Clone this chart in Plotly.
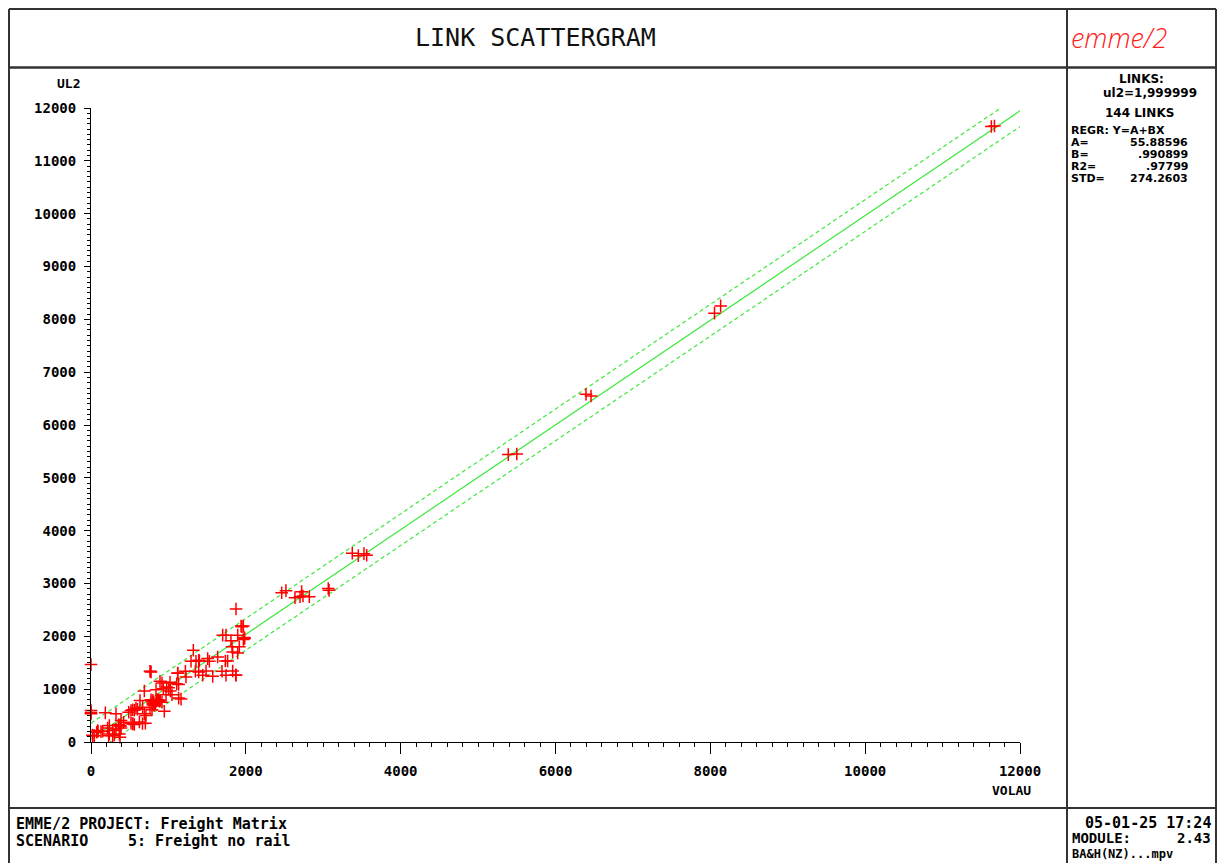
import plotly.graph_objects as go

# ---------------- data ----------------
vol = [11630, 11670, 8054, 8133, 6394, 6459, 5390, 5500,
       3375, 3453, 3526, 3561,
       2463, 2518, 2721, 2635, 2700, 2738, 2820, 3065, 3075,
       1873, 1938, 1968, 1701, 1744, 1895, 1981, 1968, 1808, 1821, 1830, 1916, 1895,
       1735, 1765, 1322, 1292, 1356, 1391, 1507, 1529, 1636,
       1348, 1391, 1486, 1443, 1572, 1692, 1744, 1830, 1873,
       1120, 1219, 1227, 762, 775, 891, 917, 1021, 1003, 1107, 1132,
       689, 840, 934, 977, 969, 1025, 1046, 1132, 1163, 633,
       775, 840, 861, 883, 797, 818, 762, 788, 947, 896, 917,
       517, 538, 487, 581, 667, 710, 689, 538, 517, 560, 702,
       185, 323, 357, 375, 388, 237, 215, 280, 323, 388,
       73, 86, 151, 129, 43, 22, 237, 280, 301, 366, 375,
       0, 0, 0, 228, 422,
       790, 810, 850, 830, 870, 800, 560, 600, 625, 665,
       1950, 1985, 1120, 770, 540, 380, 90, 20, 0, 880, 800, 1870, 1400]
ul2 = [11650, 11660, 8115, 8254, 6582, 6550, 5440, 5450,
       3572, 3527, 3565, 3534,
       2826, 2865, 2846, 2732, 2750, 2764, 2751, 2906, 2870,
       2517, 2194, 2194, 2022, 2022, 2022, 1978, 1940, 1915, 1801, 1705, 1801, 1686,
       1534, 1534, 1737, 1528, 1528, 1547, 1579, 1528, 1610,
       1338, 1325, 1344, 1262, 1243, 1338, 1262, 1344, 1262,
       1306, 1338, 1230, 1338, 1325, 1148, 1116, 1129, 1027, 1103, 1090,
       964, 989, 1008, 1040, 894, 964, 894, 831, 812, 786,
       799, 773, 799, 773, 723, 691, 647, 609, 583, 786, 754,
       596, 609, 564, 640, 659, 501, 533, 342, 355, 330, 355,
       552, 533, 330, 311, 266, 311, 266, 216, 247, 406,
       184, 216, 203, 197, 120, 120, 152, 120, 133, 152, 89,
       596, 533, 1465, 120, 374,
       760, 740, 780, 720, 800, 790, 600, 620, 380, 350,
       2180, 1960, 1300, 1335, 350, 300, 200, 130, 560, 780, 700, 1270, 1540]

x_ticks = [0, 2000, 4000, 6000, 8000, 10000, 12000]
y_ticks = [0, 1000, 2000, 3000, 4000, 5000, 6000, 7000, 8000, 9000, 10000, 11000, 12000]

# regression figures printed on the chart
A = 55.88596
B = 0.990899
R2 = 0.97799
STD = 274.2603
N_LINKS = 144
BAND = 300          # half-width of dashed band
line_x = [0, 12000]

# ---------------- geometry helpers (page pixels -> paper) ----------------
W, H = 1218, 863
PL, PR, PT, PB = 91, 1020, 108, 742


def fx(p):
    return (p - PL) / (PR - PL)


def fy(p):
    return (PB - p) / (PB - PT)


MONO = "DejaVu Sans Mono"
SANS = "DejaVu Sans"


def txt(s, x, y, xa="left", size=12, family=SANS, weight="bold", color="#000", style="normal"):
    return dict(text=s, x=fx(x), y=fy(y), xref="paper", yref="paper",
                xanchor=xa, yanchor="middle", showarrow=False,
                font=dict(family=family, size=size, color=color, weight=weight, style=style))


def seg(x0, y0, x1, y1, w=2, c="#333"):
    return dict(type="line", xref="paper", yref="paper",
                x0=fx(x0), y0=fy(y0), x1=fx(x1), y1=fy(y1),
                line=dict(color=c, width=w))


reg_y = [A + B * v for v in line_x]
up_y = [v + BAND for v in reg_y]
lo_y = [v - BAND for v in reg_y]

GREEN = "#3de83d"

fig = go.Figure()
fig.add_trace(go.Scatter(x=line_x, y=reg_y, mode="lines",
                         line=dict(color=GREEN, width=1.2), hoverinfo="skip"))
fig.add_trace(go.Scatter(x=line_x, y=up_y, mode="lines",
                         line=dict(color=GREEN, width=1.2, dash="4px,3px"), hoverinfo="skip"))
fig.add_trace(go.Scatter(x=line_x, y=lo_y, mode="lines",
                         line=dict(color=GREEN, width=1.2, dash="4px,3px"), hoverinfo="skip"))
fig.add_trace(go.Scatter(x=vol, y=ul2, mode="markers", cliponaxis=False,
                         marker=dict(symbol="cross-thin", size=9,
                                     line=dict(color="#ff0000", width=1.5))))

axis_font = dict(family=MONO, size=14, color="#000", weight="bold")

fig.update_layout(
    width=W, height=H,
    margin=dict(l=PL, r=W - PR, t=PT, b=H - PB, pad=0),
    paper_bgcolor="white", plot_bgcolor="white",
    showlegend=False,
    xaxis=dict(range=[0, 12000], tickvals=x_ticks, ticktext=[str(v) for v in x_ticks],
               ticks="outside", ticklen=11, tickwidth=1, tickcolor="#000",
               showline=True, linecolor="#000", linewidth=1,
               showgrid=False, zeroline=False, tickfont=axis_font,
               ticklabelstandoff=5,
               minor=dict(dtick=200, ticks="outside", ticklen=4, tickcolor="#000", tickwidth=1,
                          showgrid=False)),
    yaxis=dict(range=[0, 12000], tickvals=y_ticks, ticktext=[str(v) for v in y_ticks],
               ticks="outside", ticklen=6, tickwidth=1, tickcolor="#000",
               showline=True, linecolor="#000", linewidth=1,
               showgrid=False, zeroline=False, tickfont=axis_font,
               ticklabelstandoff=5,
               minor=dict(dtick=100, ticks="outside", ticklen=3, tickcolor="#000", tickwidth=1,
                          showgrid=False)),
)

shapes = [
    seg(9, 9, 1216, 9),            # top border
    seg(9, 9, 9, 870),             # left border
    seg(1216, 9, 1216, 870),       # right border
    seg(9, 67.5, 1216, 67.5, w=2.5),  # header separator
    seg(1067, 9, 1067, 870),       # right column divider
    seg(9, 808, 1216, 808),        # footer separator
]

annots = [
    txt("LINK SCATTERGRAM", 535, 37, xa="center", size=25, family=MONO, weight="normal", color="#111"),
    txt("emme/2", 1119, 37, xa="center", size=27, family="Open Sans", weight=300,
        color="#ff2020", style="italic"),
    txt("UL2", 68, 83, xa="center", size=13, family=MONO),
    txt("VOLAU", 1011, 790, xa="center", size=13, family=MONO),
    # right panel
    txt("LINKS:", 1141, 79, xa="center", size=12),
    txt("ul2=1,999999", 1150, 93, xa="center", size=12),
    txt(f"{N_LINKS} LINKS", 1139, 113, xa="center", size=12),
    txt("REGR: Y=A+BX", 1069, 130, size=11),
    txt("A=", 1069, 142, size=11),
    txt(f"{A:.5f}", 1190, 142, xa="right", size=11),
    txt("B=", 1069, 154, size=11),
    txt(f"{B:.6f}"[1:], 1190, 154, xa="right", size=11),
    txt("R2=", 1069, 166, size=11),
    txt(f"{R2:.5f}"[1:], 1190, 166, xa="right", size=11),
    txt("STD=", 1069, 178, size=11),
    txt(f"{STD:.4f}", 1190, 178, xa="right", size=11),
    # footer
    txt("EMME/2 PROJECT: Freight Matrix", 14, 824, size=15, family=MONO),
    txt("SCENARIO", 14, 841, size=15, family=MONO),
    txt("5: Freight no rail", 126, 841, size=15, family=MONO),
    txt("05-01-25 17:24", 1213, 823, xa="right", size=15, family=MONO),
    txt("MODULE:", 1070, 838, size=14, family=MONO),
    txt("2.43", 1213, 838, xa="right", size=14, family=MONO),
    txt("BA&H(NZ)...mpv", 1070, 854, size=12, family=MONO),
]

fig.update_layout(shapes=shapes, annotations=annots)

fig.write_html("out.html",
               config={"displayModeBar": False},
               post_script="document.body.style.margin='0';document.body.style.overflow='hidden';")
